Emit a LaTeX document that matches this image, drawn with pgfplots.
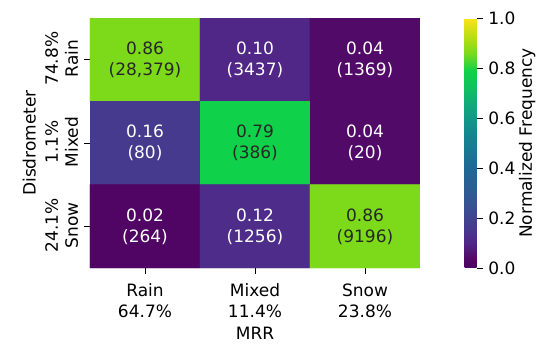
\documentclass[border=0pt]{standalone}
\usepackage{pgfplots}
\pgfplotsset{compat=1.18}
\usepackage{fontspec}
\setmainfont{DejaVu Sans}
\definecolor{annodark}{HTML}{262626}
\pgfplotsset{/pgf/number format/assume math mode=true}
\pgfplotsset{colormap={refviridis}{
  rgb255(0pt)=(78,0,98)
  rgb255(4pt)=(82,10,104)
  rgb255(10pt)=(80,38,135)
  rgb255(16pt)=(70,58,142)
  rgb255(25pt)=(55,82,145)
  rgb255(40pt)=(30,105,148)
  rgb255(55pt)=(18,138,142)
  rgb255(65pt)=(16,168,125)
  rgb255(72pt)=(16,192,95)
  rgb255(79pt)=(16,210,74)
  rgb255(86pt)=(125,218,26)
  rgb255(93pt)=(190,222,22)
  rgb255(100pt)=(252,226,24)
}}
\begin{document}
\fontsize{17bp}{21bp}\selectfont
\begin{tikzpicture}
\useasboundingbox (-90bp,-80bp) rectangle (460bp,268bp);
\begin{axis}[
  at={(0,0)}, anchor=south west,
  scale only axis, width=330bp, height=250bp,
  xmin=-0.5, xmax=2.5, ymin=-0.5, ymax=2.5,
  y dir=reverse,
  axis line style={draw=none},
  tick align=outside, major tick length=6bp,
  tick style={black, line width=0.8bp},
  xtick pos=bottom, ytick pos=left,
  xtick={0,1,2}, ytick={0,1,2},
  xticklabels={{Rain\\64.7\%},{Mixed\\11.4\%},{Snow\\23.8\%}},
  yticklabels={{74.8\%\\Rain},{1.1\%\\Mixed},{24.1\%\\Snow}},
  xticklabel style={align=center, yshift=-4bp, font=\fontsize{17bp}{21bp}\selectfont},
  yticklabel style={align=center, rotate=90, anchor=south, xshift=1bp, font=\fontsize{17bp}{20bp}\selectfont},
  xlabel={MRR}, ylabel={Disdrometer},
  xlabel style={font=\fontsize{17bp}{21bp}\selectfont, yshift=2bp},
  ylabel style={font=\fontsize{17bp}{21bp}\selectfont, yshift=-2bp},
  colormap name=refviridis, point meta min=0, point meta max=1,
  colorbar,
  colorbar style={
    at={(parent axis.north east)}, anchor=north west, xshift=36bp,
    scale only axis, width=12bp, height=250bp,
    ytick={0,0.2,0.4,0.6,0.8,1}, ytick pos=right,
    yticklabel style={/pgf/number format/.cd, fixed, fixed zerofill, precision=1, /tikz/.cd, font=\fontsize{17bp}{20bp}\selectfont},
    ylabel={Normalized Frequency},
    ylabel style={font=\fontsize{17bp}{20bp}\selectfont},
    ylabel shift=-8bp,
    axis line style={draw=none},
    tick align=outside, major tick length=6bp,
    tick style={black, line width=0.8bp},
  },
]
\addplot[matrix plot*, mesh/cols=3, point meta=explicit] table[meta=c] {
x y c
0 0 0.86
1 0 0.10
2 0 0.04
0 1 0.16
1 1 0.79
2 1 0.04
0 2 0.02
1 2 0.12
2 2 0.86
};
\addplot[draw=none, mark=none, nodes near coords, point meta=explicit symbolic,
  nodes near coords style={align=center, anchor=center, text=white, font=\fontsize{17bp}{21bp}\selectfont}]
coordinates {
(1,0) [{0.10\\(3437)}]
(2,0) [{0.04\\(1369)}]
(0,1) [{0.16\\(80)}]
(2,1) [{0.04\\(20)}]
(0,2) [{0.02\\(264)}]
(1,2) [{0.12\\(1256)}]
};
\addplot[draw=none, mark=none, nodes near coords, point meta=explicit symbolic,
  nodes near coords style={align=center, anchor=center, text=annodark, font=\fontsize{17bp}{21bp}\selectfont}]
coordinates {
(0,0) [{0.86\\(28,379)}]
(1,1) [{0.79\\(386)}]
(2,2) [{0.86\\(9196)}]
};
\end{axis}
\end{tikzpicture}
\end{document}
